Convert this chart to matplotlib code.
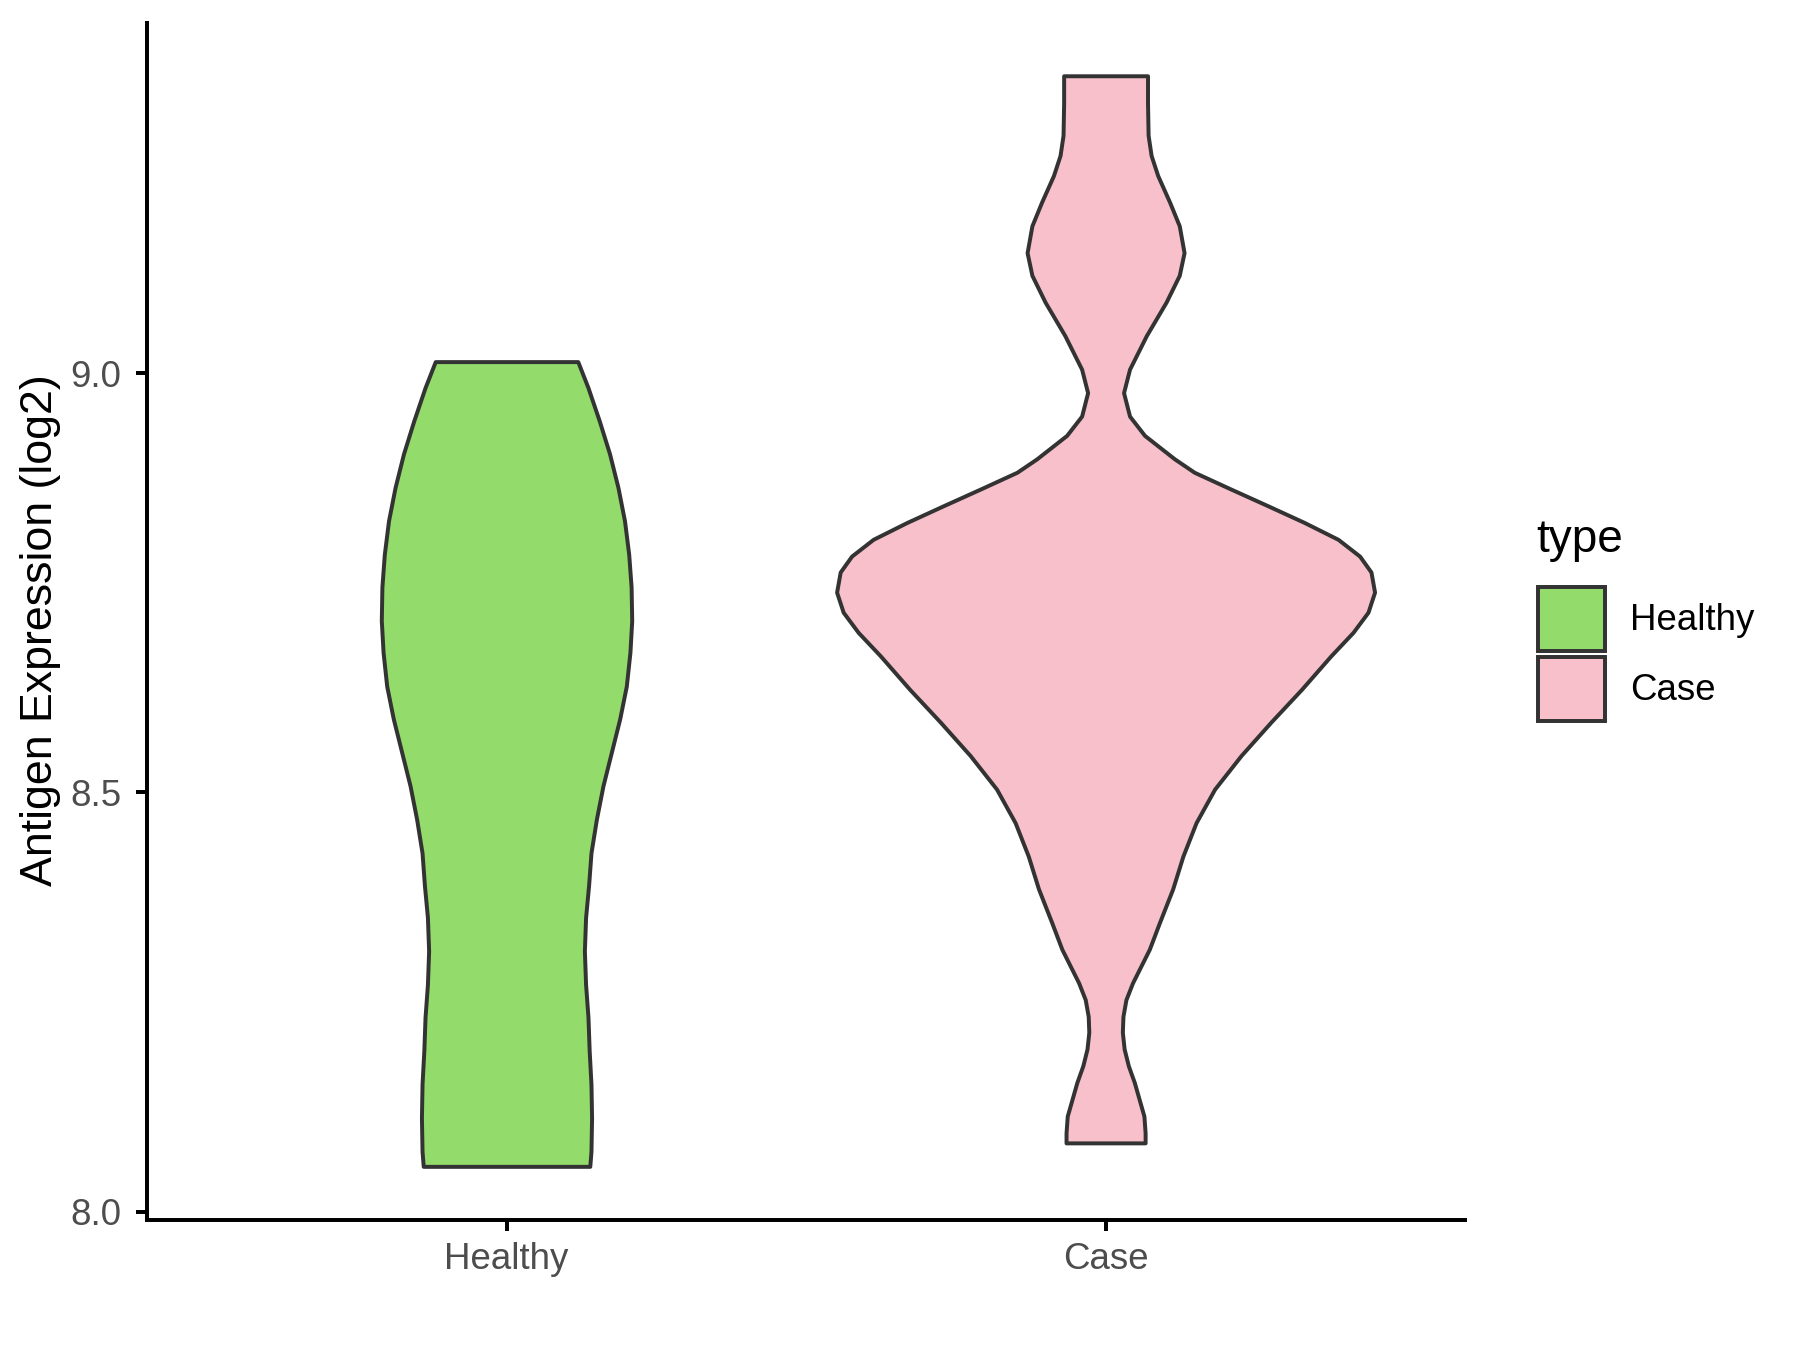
import matplotlib
matplotlib.use("Agg")
import matplotlib.pyplot as plt
from matplotlib.patches import Patch

plt.rcParams['font.family'] = ['Liberation Sans', 'DejaVu Sans']

# groups and colours
groups = ["Healthy", "Case"]
fill_colors = ["#93DB6B", "#F8C0CB"]
edge_color = "#333333"

# violin outlines: y level and half width (x units)
healthy_y = [8.054, 8.072, 8.112, 8.152, 8.192, 8.232, 8.271, 8.311,
             8.351, 8.389, 8.428, 8.468, 8.508, 8.548, 8.588, 8.627,
             8.667, 8.705, 8.745, 8.784, 8.824, 8.864, 8.904, 8.943,
             8.983, 9.014]
healthy_hw = [0.139, 0.141, 0.142, 0.141, 0.138, 0.136, 0.132, 0.130,
              0.132, 0.137, 0.141, 0.150, 0.161, 0.175, 0.189, 0.200,
              0.206, 0.209, 0.208, 0.204, 0.197, 0.186, 0.172, 0.155,
              0.136, 0.119]

case_y = [8.082, 8.094, 8.114, 8.134, 8.154, 8.174, 8.194, 8.214,
          8.233, 8.253, 8.273, 8.293, 8.313, 8.345, 8.385, 8.424,
          8.464, 8.504, 8.544, 8.584, 8.623, 8.663, 8.691, 8.715,
          8.739, 8.763, 8.782, 8.802, 8.822, 8.842, 8.862, 8.882,
          8.898, 8.912, 8.926, 8.949, 8.977, 9.005, 9.045, 9.085,
          9.117, 9.144, 9.176, 9.204, 9.236, 9.260, 9.284, 9.323,
          9.355]
case_hw = [0.066, 0.066, 0.064, 0.056, 0.048, 0.038, 0.031, 0.028,
           0.029, 0.034, 0.045, 0.059, 0.073, 0.090, 0.112, 0.129,
           0.151, 0.182, 0.226, 0.276, 0.327, 0.376, 0.413, 0.438,
           0.449, 0.443, 0.424, 0.388, 0.332, 0.271, 0.209, 0.148,
           0.115, 0.090, 0.065, 0.040, 0.030, 0.040, 0.068, 0.101,
           0.123, 0.131, 0.123, 0.107, 0.087, 0.076, 0.071, 0.070,
           0.070]

y_ticks = [8.0, 8.5, 9.0]
y_label = "Antigen Expression (log2)"
legend_title = "type"

fig = plt.figure(figsize=(12, 9), dpi=150)
ax = fig.add_axes([0.0817, 0.0963, 0.7322, 0.8867])

profiles = [(healthy_y, healthy_hw), (case_y, case_hw)]
for i, (ys, hws) in enumerate(profiles):
    pos = i + 1
    left = [pos - w for w in hws]
    right = [pos + w for w in hws]
    ax.fill_betweenx(ys, left, right, facecolor=fill_colors[i],
                     edgecolor=edge_color, linewidth=1.9,
                     joinstyle="round", zorder=2)

ax.set_xlim(0.4, 2.6)
ax.set_ylim(7.990, 9.418)
ax.set_xticks([1, 2])
ax.set_xticklabels(groups)
ax.set_yticks(y_ticks)
ax.set_yticklabels([f"{v:.1f}" for v in y_ticks])

for side in ["top", "right"]:
    ax.spines[side].set_visible(False)
for side in ["left", "bottom"]:
    ax.spines[side].set_linewidth(1.9)
    ax.spines[side].set_color("black")

ax.tick_params(axis="both", length=5.5, width=1.9, color="black",
               labelsize=17.6, labelcolor="#4D4D4D")
ax.tick_params(axis="y", pad=7)
ax.tick_params(axis="x", pad=5)

fig.text(0.0225, 0.533, y_label, rotation=90, va="center", ha="center",
         fontsize=21.5, color="black")

# legend
fig.text(0.8535, 0.600, legend_title, ha="left", va="center", fontsize=22)
handles = [Patch(facecolor=c, edgecolor=edge_color, linewidth=1.9)
           for c in fill_colors]
fig.legend(handles, groups, loc="center left",
           bbox_to_anchor=(0.8546, 0.5157), frameon=False,
           fontsize=17.6, handlelength=1.81, handleheight=2.3,
           labelspacing=0.16, handletextpad=0.69,
           borderpad=0, borderaxespad=0)

fig.savefig("out.png", dpi=150, facecolor="white")
